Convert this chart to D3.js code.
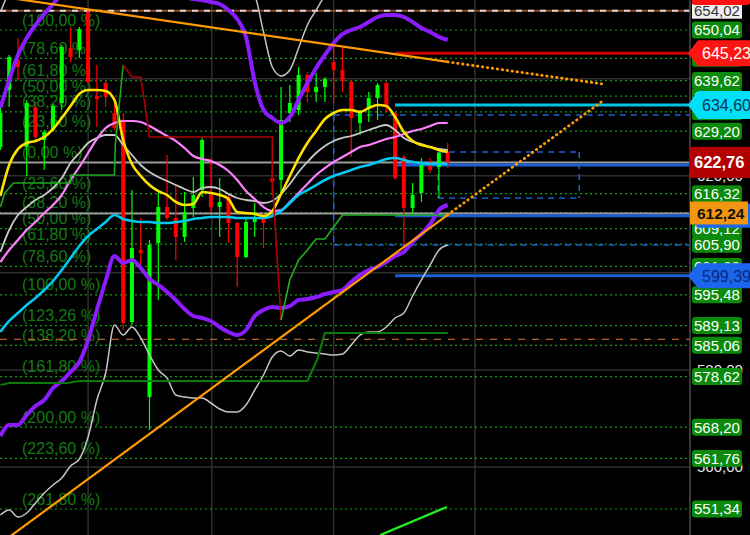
<!DOCTYPE html>
<html><head><meta charset="utf-8">
<script src="https://cdn.jsdelivr.net/npm/d3@7"></script>
<style>html,body{margin:0;padding:0;background:#000;overflow:hidden}</style>
</head><body>
<svg id="c" width="750" height="535"></svg>
<script>
// ---------- DATA ----------
const candleOpen  = [625.93,637.68,643.86,625.93,634.17,627.37,629.43,635.00,646.33,645.92,653.75,636.44,639.12,632.94,631.49,589.87,604.71,574.42,606.15,613.57,611.30,607.39,613.36,617.07,616.04,613.57,615.63,610.27,603.26,610.48,611.30,619.54,619.13,632.94,633.55,640.77,637.26,638.29,643.45,641.80,639.32,630.88,633.97,636.03,639.12,632.94,623.87,613.36,616.45,622.02,621.81,624.90];
const candleHigh  = [633.97,644.89,648.39,635.61,635.20,629.43,634.79,646.95,650.66,650.66,654.16,642.83,639.74,636.23,632.94,617.07,611.30,606.77,616.45,624.28,618.10,616.66,619.75,627.79,623.66,619.54,616.04,610.48,611.51,614.39,612.54,621.19,638.29,638.71,642.42,641.38,641.18,640.35,646.54,646.33,639.74,633.55,637.26,639.12,639.32,633.14,624.28,618.51,623.66,623.66,624.90,626.75];
const candleLow   = [625.31,634.17,639.74,619.96,626.96,621.19,629.02,633.55,643.45,644.27,639.12,630.05,634.17,629.43,588.22,589.25,601.20,567.62,594.40,610.89,602.65,606.36,611.51,615.63,612.54,607.39,606.15,597.08,603.06,607.39,605.12,616.04,616.45,631.08,632.52,635.20,635.20,635.20,635.00,637.26,623.87,628.40,631.08,631.49,633.14,619.13,605.33,612.33,614.60,620.57,615.42,621.60];
const candleClose = [632.94,644.48,642.42,635.00,627.99,629.02,634.38,646.54,644.48,650.25,639.32,635.82,636.23,629.85,589.67,605.12,604.09,605.74,613.57,611.30,607.39,612.54,616.04,627.37,613.57,614.60,610.27,603.26,610.48,611.51,610.27,618.72,631.49,635.00,640.77,637.26,638.29,639.94,641.80,639.53,631.91,632.94,636.03,638.71,634.17,619.54,613.36,616.04,622.22,621.19,624.69,622.76];

const yellowMA = [615.83,622.22,625.52,626.75,627.17,627.99,629.64,631.91,634.38,636.85,637.68,637.68,637.47,635.61,627.37,622.43,619.96,618.10,616.86,616.04,614.60,613.98,614.19,616.66,616.45,616.04,615.22,612.54,612.33,612.13,611.71,612.74,616.25,619.96,623.66,626.75,629.23,631.70,632.94,633.55,633.55,633.14,633.97,634.58,634.38,632.11,629.02,627.17,626.34,625.93,625.31,624.90];
const grayMid  = [604.30,608.83,611.92,613.57,615.01,616.04,617.48,619.54,622.63,624.69,626.75,627.79,628.40,628.40,626.34,624.28,622.22,620.78,619.75,618.92,618.10,617.28,616.66,617.48,617.69,617.28,616.25,615.42,615.01,614.80,614.39,614.80,616.25,618.31,620.78,622.84,624.69,626.14,627.17,627.79,628.20,628.82,629.43,630.05,630.46,629.43,627.79,626.96,626.55,625.93,625.52,625.31];
const pinkMA   = [602.23,604.71,606.77,608.83,610.48,612.33,613.98,616.04,619.13,621.81,624.69,627.58,629.85,630.88,631.29,631.29,631.08,630.26,629.23,628.20,627.17,625.72,624.08,623.46,623.05,622.22,620.99,619.13,616.86,615.22,613.57,612.74,612.95,614.60,616.45,618.31,620.16,621.60,622.84,623.87,624.90,625.93,626.34,626.96,627.58,627.99,628.61,629.23,629.64,630.26,630.88,630.88];
const cyanMA   = [587.81,590.08,591.73,593.37,594.82,596.47,598.32,600.59,603.06,605.53,607.59,609.03,610.48,611.92,611.10,610.68,610.48,610.48,610.27,610.27,610.48,610.68,611.10,611.30,611.51,611.51,611.51,611.30,611.30,611.30,611.30,611.71,612.74,614.39,616.04,617.07,618.10,619.13,619.96,620.57,621.19,621.81,622.22,622.84,623.46,623.66,623.25,622.84,622.63,622.43,622.43,622.43];
const purpleUpper = [633.97,639.74,644.89,648.39,651.07,653.34,655.40,657.46,659.52,661.17,662.40,663.64,664.46,664.87,665.29,664.46,663.43,661.99,660.34,658.90,657.66,656.84,656.43,656.22,655.81,655.40,654.16,652.31,648.60,639.32,633.55,631.91,630.88,632.11,635.61,639.12,642.21,644.89,647.36,649.21,650.04,650.66,651.69,652.72,653.13,653.13,652.72,651.69,650.45,649.63,648.60,647.98];
const purpleLower = [566.38,568.65,568.65,570.71,572.56,573.80,576.27,577.71,579.57,581.63,586.16,592.34,598.32,603.47,602.03,602.65,601.00,598.73,597.50,596.05,594.40,592.55,591.11,590.70,590.08,588.84,587.81,587.19,588.22,591.11,592.34,592.96,592.76,593.17,594.40,594.61,595.02,595.64,596.05,596.47,598.11,599.56,600.59,601.20,602.23,603.47,604.30,606.36,608.00,610.06,612.95,613.98];
const whiteUpper = [653.75,657.87,660.75,662.40,664.46,664.46,664.46,664.46,664.46,664.46,664.46,664.46,664.46,664.46,664.46,664.46,664.46,664.46,664.46,664.46,664.46,664.46,664.46,664.46,664.46,664.46,664.46,662.40,659.31,657.25,649.63,642.41,640.56,641.80,646.33,651.07,654.16,657.25,660.34,663.43,663.43,663.43,663.43,663.43,663.43,663.43,663.43,663.43,663.43,663.43,663.43,663.43];
const whiteLower = [550.10,551.13,549.69,550.52,552.58,554.64,556.29,557.73,560.20,561.64,566.18,573.80,579.36,589.25,587.19,588.84,586.58,583.07,579.98,578.33,574.83,574.42,574.21,574.21,573.18,571.95,571.33,571.33,572.77,575.86,578.95,582.66,583.90,582.87,584.10,583.69,583.48,583.28,583.07,583.28,585.13,587.19,587.81,587.81,588.84,590.70,591.73,595.23,598.53,601.62,604.71,605.74];

// stop line (green rising parts, dark red falling part)
const stopUp1Idx   = [0,0.5,1.5,8,8,13,13.1,14];
const stopUp1Price = [613.57,616.45,618.51,618.51,620.16,620.16,626.34,642.83];
const stopDownIdx   = [14,15,16,17,31,31,32];
const stopDownPrice = [642.83,640.36,640.36,627.99,627.99,619.13,590.29];
const stopUp2Idx   = [32,33,34,35,36,37,38,39,51];
const stopUp2Price = [590.29,598.53,602.65,604.71,606.97,606.97,609.45,611.92,611.92];
// dark green step line
const darkStepIdx   = [0,1,7.6,9,35,36.1,37,51];
const darkStepPrice = [576.89,577.30,577.30,577.71,577.71,582.04,587.61,587.61];
// short bright green segment
const greenSegIdx = [43.3,50.9];
const greenSegPrice = [545.98,551.75];

// trend lines: [start, last bar, projection end]
const trendUpperIdx = [0,51,68.9];
const trendUpperPrice = [656.92,643.47,638.85];
const trendLowerIdx = [0,51,68.9];
const trendLowerPrice = [544.23,611.96,635.73];

// fibonacci levels
const fibPrices = [650.04,644.20,639.62,636.40,633.18,629.20,622.76,616.32,612.34,609.12,605.90,601.32,595.48,589.13,585.06,578.62,568.20,561.76,551.34];
const fibLabels = ["(100,00 %)","(78,60 %)","(61,80 %)","(50,00 %)","(38,20 %)","(23,60 %)","(0,00 %)","(23,60 %)","(38,20 %)","(50,00 %)","(61,80 %)","(78,60 %)","(100,00 %)","(123,26 %)","(138,20 %)","(161,80 %)","(200,00 %)","(223,60 %)","(261,80 %)"];
// right-axis fib tags whose text is completely covered by other tags in the reference
const fibTagHidden = [644.20,633.18,622.76,612.34];

const gridPrices = [640,620,600,580,560];
const gridLabelPrices = [620,580,560];
const gridIdx = [10,24.1,38,54.1];

const levelStartIdx = 45;
const levelPrices = [645.23,634.60,622.22,611.75,599.39];
const closePrice = 622.76;
const trendValue = 612.24;
const topDashPrice = 654.02;
const midDashPrice = 586.31;
const box1 = {i0:38, p0:632.52, p1:605.74};
const box2 = {i0:49.9, i1:66, p0:624.90, p1:615.42};

// ---------- DRAW ----------
const W=750,H=535, AX=690;
const svg=d3.select("#c");
svg.append("rect").attr("width",W).attr("height",H).attr("fill","#000");
const x=d3.scaleLinear().domain([0,51]).range([0.4,447.7]);
const y=d3.scaleLinear().domain([650.04,551.34]).range([30,509]);
const fmt=p=>d3.format(".2f")(p).replace(".",",");
const FONT='"Liberation Sans", Arial, sans-serif';

svg.append("clipPath").attr("id","plot").append("rect").attr("x",0).attr("y",0).attr("width",AX).attr("height",H);
const g=svg.append("g").attr("clip-path","url(#plot)");

// grid
g.selectAll(".hg").data(gridPrices).join("line").attr("x1",0).attr("x2",AX)
 .attr("y1",d=>y(d)).attr("y2",d=>y(d)).attr("stroke","#303030").attr("stroke-width",1.5);
g.selectAll(".vg").data(gridIdx).join("line").attr("y1",0).attr("y2",H)
 .attr("x1",d=>x(d)).attr("x2",d=>x(d)).attr("stroke","#303030").attr("stroke-width",1.5);

// fib dotted lines + labels
g.selectAll(".fl").data(fibPrices).join("line").attr("x1",0).attr("x2",AX)
 .attr("y1",d=>y(d)).attr("y2",d=>y(d)).attr("stroke","#11a011").attr("stroke-width",1.2).attr("stroke-dasharray","2,3");
g.selectAll(".ft").data(fibPrices).join("text").attr("x",22).attr("y",(d)=>y(d)-4.5)
 .text((d,i)=>fibLabels[i]).attr("fill","#137a13").attr("font-family",FONT).attr("font-size",16);

// dashed horizontal lines
g.append("line").attr("x1",0).attr("x2",AX).attr("y1",y(topDashPrice)).attr("y2",y(topDashPrice)).attr("stroke","#8a4a2a").attr("stroke-width",2);
g.append("line").attr("x1",0).attr("x2",AX).attr("y1",y(topDashPrice)).attr("y2",y(topDashPrice)).attr("stroke","#d8d8d8").attr("stroke-width",2).attr("stroke-dasharray","6,6");
g.append("line").attr("x1",0).attr("x2",AX).attr("y1",y(midDashPrice)).attr("y2",y(midDashPrice)).attr("stroke","#b8622c").attr("stroke-width",1.3).attr("stroke-dasharray","7,7");

// full width gray lines
[closePrice,trendValue].forEach(p=>{
  g.append("line").attr("x1",0).attr("x2",AX).attr("y1",y(p)).attr("y2",y(p)).attr("stroke","#9a9a9a").attr("stroke-width",2);
});

// level lines from x(levelStartIdx)
const levelColors=["#d00000","#00c4e6","#1a5fd6","#1a5fd6","#1a5fd6"];
levelPrices.forEach((p,i)=>{
  g.append("line").attr("x1",x(levelStartIdx)).attr("x2",AX).attr("y1",y(p)).attr("y2",y(p))
   .attr("stroke",levelColors[i]).attr("stroke-width",3);
});

// dashed boxes
const dashC="#1a5fd6";
function dl(x1,y1,x2,y2){g.append("line").attr("x1",x1).attr("y1",y1).attr("x2",x2).attr("y2",y2).attr("stroke",dashC).attr("stroke-width",1.5).attr("stroke-dasharray","6,5");}
dl(x(box1.i0),y(box1.p0),AX,y(box1.p0));
dl(x(box1.i0),y(box1.p1),AX,y(box1.p1));
dl(x(box1.i0),y(box1.p0),x(box1.i0),y(box1.p1));
dl(x(box2.i0),y(box2.p0),x(box2.i1),y(box2.p0));
dl(x(box2.i0),y(box2.p1),x(box2.i1),y(box2.p1));
dl(x(box2.i0),y(box2.p0),x(box2.i0),y(box2.p1));
dl(x(box2.i1),y(box2.p0),x(box2.i1),y(box2.p1));

// candles
const cg=g.append("g");
candleOpen.forEach((o,i)=>{
  const c=candleClose[i], up=c>=o, col=up?"#00ff00":"#ff0000";
  cg.append("line").attr("x1",x(i)).attr("x2",x(i)).attr("y1",y(candleHigh[i])).attr("y2",y(candleLow[i])).attr("stroke",col).attr("stroke-width",1.2);
  const top=y(Math.max(o,c)), bot=y(Math.min(o,c));
  cg.append("rect").attr("x",x(i)-2).attr("width",4).attr("y",top).attr("height",Math.max(1.5,bot-top)).attr("fill",col);
});

// indicator lines
const line=d3.line().x((d,i)=>x(i)).y(d=>y(d)).curve(d3.curveMonotoneX);
function series(vals,color,w){g.append("path").datum(vals).attr("d",line).attr("fill","none").attr("stroke",color).attr("stroke-width",w).attr("stroke-linejoin","round");}
series(whiteUpper,"#c4c4c4",1.5);
series(whiteLower,"#c4c4c4",1.5);
series(grayMid,"#c8c8c8",1.8);
series(pinkMA,"#ff80ff",2.2);
series(cyanMA,"#00c8f0",2.6);
series(yellowMA,"#ffe100",2.6);
series(purpleUpper,"#8a1cff",4);
series(purpleLower,"#8a1cff",4);

// step lines
const pl=d3.line().x(d=>x(d[0])).y(d=>y(d[1]));
function poly(ix,pr,color,w,dash){const p=g.append("path").datum(ix.map((v,i)=>[v,pr[i]])).attr("d",pl).attr("fill","none").attr("stroke",color).attr("stroke-width",w);if(dash)p.attr("stroke-dasharray",dash).attr("stroke-linecap","round");return p;}
poly(darkStepIdx,darkStepPrice,"#0a7a0a",2.2);
poly(stopUp1Idx,stopUp1Price,"#1fa51f",1.6);
poly(stopDownIdx,stopDownPrice,"#b00000",1.6);
poly(stopUp2Idx,stopUp2Price,"#22b022",1.6);
poly(greenSegIdx,greenSegPrice,"#22ee22",2.4);

// orange trend lines
poly(trendUpperIdx.slice(0,2),trendUpperPrice.slice(0,2),"#ff9a00",2.2);
poly(trendUpperIdx.slice(1),trendUpperPrice.slice(1),"#ff9a00",2.8,"0.5,4.5");
poly(trendLowerIdx.slice(0,2),trendLowerPrice.slice(0,2),"#ff9a00",2.2);
poly(trendLowerIdx.slice(1),trendLowerPrice.slice(1),"#ff9a00",2.8,"0.5,4.5");

// ---------- right axis ----------
svg.append("line").attr("x1",AX).attr("x2",AX).attr("y1",0).attr("y2",H).attr("stroke","#4a4a4a").attr("stroke-width",1.5);
const ra=svg.append("g").attr("font-family",FONT);
gridLabelPrices.forEach(p=>{
  ra.append("text").attr("x",697).attr("y",y(p)).attr("dy","0.35em").text(fmt(p)).attr("fill","#e6e6e6").attr("font-size",15);
});
fibPrices.forEach(p=>{
  const yc=y(p);
  ra.append("rect").attr("x",692).attr("y",yc-8.5).attr("width",50).attr("height",17).attr("rx",3).attr("fill","#0b8a0b");
  if(!fibTagHidden.includes(p))
    ra.append("text").attr("x",694).attr("y",yc).attr("dy","0.36em").text(fmt(p)).attr("fill","#fff").attr("font-size",15);
});
// 654,02 label
ra.append("rect").attr("x",692).attr("y",y(topDashPrice)-7).attr("width",50).attr("height",15).attr("fill","#f0f0f0");
ra.append("text").attr("x",694).attr("y",y(topDashPrice)).attr("dy","0.36em").text(fmt(topDashPrice)).attr("fill","#333").attr("font-size",15);
ra.append("rect").attr("x",692).attr("y",-12).attr("width",58).attr("height",17).attr("rx",3).attr("fill","#ff1010");

function arrow(p,fill,tc,h,showText){
  const yc=y(p);
  ra.append("path").attr("d",`M688,${yc} L698,${yc-h/2} L752,${yc-h/2} L752,${yc+h/2} L698,${yc+h/2} Z`).attr("fill",fill);
  if(showText) ra.append("text").attr("x",702).attr("y",yc).attr("dy","0.36em").text(fmt(p)).attr("fill",tc).attr("font-size",16);
}
arrow(levelPrices[0],"#ff1414","#fff",26,true);
arrow(levelPrices[1],"#00e0fa","#0b3550",28,true);
arrow(levelPrices[3],"#1c66ee","#0a2a7a",24,false);
// orange trend value box
ra.append("rect").attr("x",690).attr("y",y(trendValue)-12).attr("width",58).attr("height",23).attr("fill","#f2960f");
ra.append("text").attr("x",697).attr("y",y(trendValue)).attr("dy","0.36em").text(fmt(trendValue)).attr("fill","#111").attr("font-size",15.5).attr("font-weight","bold");
// close box
ra.append("rect").attr("x",689).attr("y",y(closePrice)-15.5).attr("width",61).attr("height",31).attr("fill","#b30000");
ra.append("text").attr("x",694).attr("y",y(closePrice)).attr("dy","0.36em").text(fmt(closePrice)).attr("fill","#fff").attr("font-size",16.5).attr("font-weight","bold");
arrow(levelPrices[4],"#1c66ee","#0a2a7a",25,true);
</script>
</body></html>
